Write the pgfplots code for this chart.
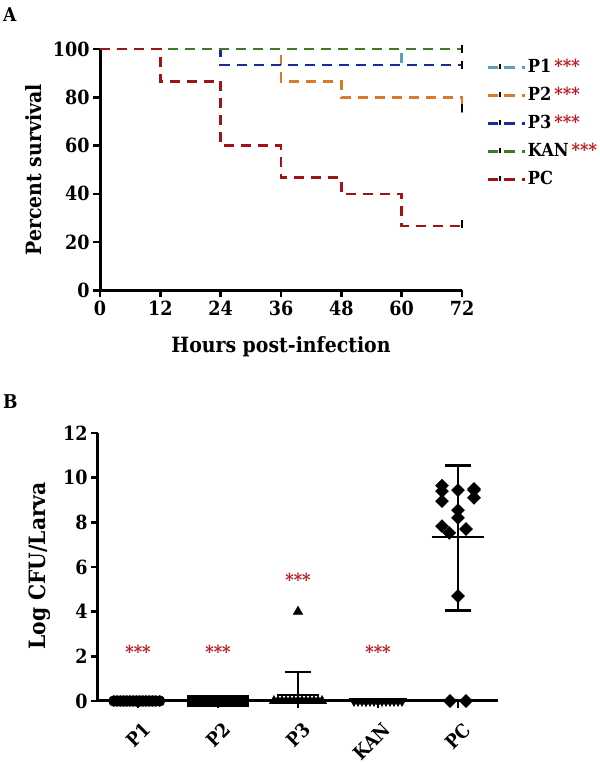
\documentclass[border=0pt]{standalone}
\usepackage{fontspec}
\setmainfont{DejaVu Serif Condensed}
\usepackage{pgfplots}
\pgfplotsset{compat=1.18}
\definecolor{cP1}{HTML}{5AA0BE}
\definecolor{cP2}{HTML}{D9792A}
\definecolor{cP3}{HTML}{1A2A9A}
\definecolor{cKAN}{HTML}{3F7A22}
\definecolor{cPC}{HTML}{A01418}
\definecolor{starc}{HTML}{C0161E}
\newcommand{\stars}{\hspace{3pt}\textcolor{starc}{***}}
\pgfplotsset{
  myaxis/.style={
    scale only axis, clip=false,
    axis x line*=bottom, axis y line*=left,
    axis line style={line width=3pt, black},
    tick align=outside, major tick length=7pt,
    tick style={line width=2.5pt, black},
    /pgf/number format/assume math mode=true,
    tick label style={font=\bfseries\fontsize{19.5}{19.5}\selectfont},
    label style={font=\bfseries\fontsize{21}{21}\selectfont},
  }
}
\begin{document}
\begin{tikzpicture}
\useasboundingbox (0pt,0pt) rectangle (600pt,764pt);
\node[anchor=north west, inner sep=0pt, font=\bfseries\fontsize{19}{19}\selectfont] at (3pt,757pt) {A};
\node[anchor=north west, inner sep=0pt, font=\bfseries\fontsize{19}{19}\selectfont] at (3pt,370pt) {B};

\begin{axis}[myaxis,
  at={(100pt,473.5pt)}, anchor=south west, width=362pt, height=241.5pt,
  xmin=0, xmax=72, ymin=0, ymax=100,
  xtick={0,12,...,72}, ytick={0,20,...,100},
  xlabel={Hours post-infection}, ylabel={Percent survival},
  xlabel style={at={(axis description cs:0.5,0)}, anchor=center, yshift=-56pt},
  ylabel style={at={(axis description cs:0,0.5)}, anchor=center, yshift=66pt},
  every axis plot/.append style={line width=2.7pt, dash pattern=on 10pt off 7pt, const plot},
  legend style={at={(axis description cs:1,1)}, anchor=north west, xshift=24pt, yshift=-8pt,
    draw=none, fill=none, inner sep=0pt, row sep=7pt,
    font=\bfseries\fontsize{18}{18}\selectfont,
    nodes={inner sep=2pt, text height=13pt, text depth=4pt}},
  legend cell align=left,
  legend image code/.code={
    \path (0pt,0pt) -- (37pt,0pt);
    \draw[#1, solid, line width=2.7pt] (0pt,0pt) -- (10pt,0pt) (16pt,0pt) -- (27pt,0pt);
    \draw[black, solid, line width=1.6pt] (12.5pt,-1pt) -- (12.5pt,4pt);
  },
]
\addplot[cP1] coordinates {(0,100) (60,93.33) (72,93.33)};
\addlegendentry{P1\stars}
\addplot[cP2] coordinates {(0,100) (36,86.67) (48,80) (72,73.33)};
\addlegendentry{P2\stars}
\addplot[cP3] coordinates {(0,100) (24,93.33) (72,93.33)};
\addlegendentry{P3\stars}
\addplot[cKAN] coordinates {(0,100) (72,100)};
\addlegendentry{KAN\stars}
\addplot[cPC] coordinates {(0,100) (12,86.67) (24,60) (36,46.67) (48,40) (60,26.67) (72,26.67)};
\addlegendentry{PC}
\addplot[forget plot, only marks, solid, black, mark=|, mark size=4pt, mark options={line width=2pt}]
  coordinates {(72,100) (72,93.33) (72,75.5) (72,27.5)};
\end{axis}

\begin{axis}[myaxis,
  at={(98pt,63pt)}, anchor=south west, width=400pt, height=268pt,
  xmin=-0.5, xmax=4.5, ymin=0, ymax=12,
  xtick={0,...,4}, ytick={0,2,...,12},
  xticklabels={P1,P2,P3,KAN,PC},
  x tick label style={rotate=45, anchor=north east, xshift=-3pt, yshift=-9pt, font=\bfseries\fontsize{19}{19}\selectfont},
  ylabel={Log CFU/Larva},
  label style={font=\bfseries\fontsize{22.5}{22.5}\selectfont},
  ylabel style={at={(axis description cs:0,0.504)}, anchor=center, yshift=58pt},
]
\addplot[black, line width=2.8pt] coordinates {(3.67,7.34) (4.33,7.34)};
\addplot[black, line width=2.8pt] coordinates {(4,4.07) (4,10.53)};
\addplot[black, line width=2.8pt] coordinates {(3.84,10.53) (4.16,10.53)};
\addplot[black, line width=2.8pt] coordinates {(3.84,4.07) (4.16,4.07)};
\addplot[black, line width=2.8pt] coordinates {(1.74,0.27) (2.26,0.27)};
\addplot[black, line width=2.8pt] coordinates {(2,0.27) (2,1.3)};
\addplot[black, line width=2.8pt] coordinates {(1.84,1.3) (2.16,1.3)};
\addplot[only marks, black, mark=*, mark size=5.5pt] coordinates {
 (-0.3,0) (-0.26,0) (-0.22,0) (-0.18,0) (-0.14,0) (-0.1,0) (-0.06,0) (-0.02,0)
 (0.02,0) (0.06,0) (0.1,0) (0.14,0) (0.18,0) (0.22,0) (0.27,0)};
\addplot[only marks, black, mark=square*, mark size=5.5pt] coordinates {
 (0.69,0) (0.73,0) (0.77,0) (0.81,0) (0.85,0) (0.89,0) (0.93,0) (0.97,0)
 (1.01,0) (1.05,0) (1.09,0) (1.13,0) (1.17,0) (1.22,0) (1.31,0)};
\addplot[only marks, black, mark=triangle*, mark size=5.5pt] coordinates {
 (1.7,0) (1.75,0) (1.8,0) (1.85,0) (1.9,0) (1.95,0) (2.0,0)
 (2.05,0) (2.1,0) (2.15,0) (2.2,0) (2.25,0) (2.3,0) (2.0,0) (2.0,4)};
\addplot[only marks, black, mark=triangle*, mark size=5.5pt, mark options={rotate=180}] coordinates {
 (2.7,0) (2.75,0) (2.8,0) (2.85,0) (2.9,0) (2.95,0) (3.0,0)
 (3.05,0) (3.1,0) (3.15,0) (3.2,0) (3.25,0) (3.3,0) (3.0,0) (2.85,0)};
\addplot[only marks, black, mark=square*, mark size=4.6pt, mark options={rotate=45}] coordinates {
 (3.8,9.64) (3.8,9.4) (3.8,8.95) (4,9.44) (4,8.55) (4,8.2) (4.2,9.44) (4.2,9.1)
 (3.8,7.83) (3.89,7.53) (4.1,7.7) (4,4.7) (3.9,0) (4.1,0) (4.2,9.5)};
\node[starc, anchor=base, yshift=-9pt, font=\bfseries\fontsize{18}{18}\selectfont] at (axis cs:0,2.3) {***};
\node[starc, anchor=base, yshift=-9pt, font=\bfseries\fontsize{18}{18}\selectfont] at (axis cs:1,2.3) {***};
\node[starc, anchor=base, yshift=-9pt, font=\bfseries\fontsize{18}{18}\selectfont] at (axis cs:2,5.55) {***};
\node[starc, anchor=base, yshift=-9pt, font=\bfseries\fontsize{18}{18}\selectfont] at (axis cs:3,2.3) {***};
\end{axis}
\end{tikzpicture}
\end{document}
